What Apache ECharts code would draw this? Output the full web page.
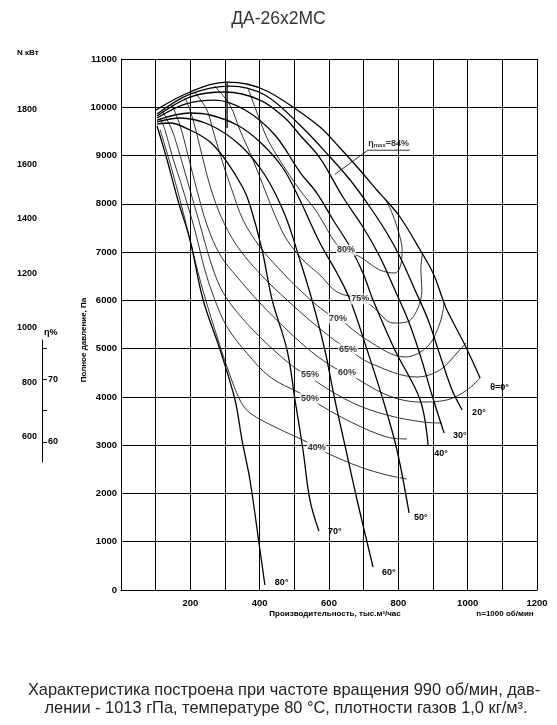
<!DOCTYPE html>
<html>
<head>
<meta charset="utf-8">
<title>ДА-26х2МС</title>
<script src="https://cdn.jsdelivr.net/npm/echarts@6/dist/echarts.min.js"></script>
<style>
  html, body { margin: 0; padding: 0; background: #fff; }
  #chart { width: 557px; height: 725px; }
</style>
</head>
<body>
<div id="chart"></div>
<script>
// axis ticks
const flowTicks = [200, 400, 600, 800, 1000, 1200];
const pressureTicks = [0, 1000, 2000, 3000, 4000, 5000, 6000, 7000, 8000, 9000, 10000, 11000];
const powerTicks = [600, 800, 1000, 1200, 1400, 1600, 1800];
const etaTicks = [60, 65, 70, 75];
const etaTickLabels = [60, 70];

// blade angle curves: [flow, thous. m3/h ; total pressure, Pa]
const angleNames = ["θ=0°", "20°", "30°", "40°", "50°", "60°", "70°", "80°"];
const blade0 = [[101,9943],[199,10316],[306,10523],[363,10482],[421,10337],[496,10005],[574,9591],[632,9156],[689,8700],[738,8286],[764,8079],[805,7727],[863,7043],[900,6567],[929,6007],[940,5800],[992,5075],[1036,4392]];
const blade20 = [[104,9860],[199,10274],[314,10440],[415,10254],[516,9633],[603,8970],[661,8493],[718,7934],[767,7395],[805,6898],[848,6215],[886,5593],[920,4868],[955,4143],[984,3729]];
const blade30 = [[104,9819],[199,10212],[300,10316],[401,10150],[473,9778],[516,9425],[574,8949],[640,8141],[698,7520],[747,6898],[790,6215],[828,5593],[863,4868],[897,4039],[932,3252]];
const blade40 = [[104,9778],[185,10067],[271,10150],[358,9943],[444,9425],[516,8659],[565,8224],[612,7665],[661,7105],[698,6567],[727,6007],[790,4972],[863,3936],[886,2983]];
const blade50 = [[104,9736],[199,9881],[257,9840],[335,9633],[401,9280],[467,8742],[516,8079],[574,7188],[623,6567],[661,6007],[710,4972],[756,3936],[796,2900],[831,1595]];
const blade60 = [[104,9695],[170,9778],[257,9633],[343,9218],[415,8597],[473,7768],[516,6836],[551,6007],[588,4972],[617,3936],[649,2900],[681,1864],[727,476]];
const blade70 = [[104,9653],[141,9674],[199,9529],[257,9280],[306,8866],[352,8327],[372,7975],[407,7043],[436,6007],[479,4972],[502,3936],[525,2900],[545,1864],[571,1222]];
const blade80 = [[104,9612],[133,8907],[164,8079],[199,7250],[237,6007],[286,4972],[329,3936],[349,3107],[372,2279],[398,974],[415,104]];
// vertical line under the top of the characteristics
const peakLine = [[306,10523],[306,9570]];

// efficiency contours
const eta80 = [[366,10400],[395,9840],[424,9322],[467,8804],[516,8286],[565,7830],[623,7147],[649,7043],[690,6898],[747,6629],[790,6567],[805,6691],[811,7043],[799,7457],[782,7810],[767,8040]];
const eta75 = [[270,10440],[314,10047],[343,9529],[381,8907],[415,8286],[450,7665],[479,7250],[525,6836],[574,6525],[623,6173],[690,6028],[727,5862],[785,5531],[825,5552],[854,5800],[868,6215],[865,6629],[870,6990]];
const eta70 = [[213,10316],[248,9943],[265,9529],[291,8907],[320,8286],[352,7665],[401,7105],[459,6629],[525,6152],[594,5738],[626,5634],[710,5179],[819,4827],[883,5034],[920,5531],[932,5950]];
const eta65 = [[185,10192],[199,9943],[216,9529],[237,8907],[265,8182],[300,7561],[343,7043],[410,6484],[479,6007],[554,5531],[623,5137],[655,4992],[718,4702],[854,4412],[920,4557],[969,4909],[995,5120]];
const eta60 = [[147,10047],[170,9633],[193,9011],[219,8286],[248,7561],[286,6940],[335,6484],[401,5945],[479,5386],[554,4909],[617,4599],[652,4495],[767,4039],[863,3894],[940,3936],[998,4143],[1036,4392]];
const eta55 = [[121,9902],[147,9529],[170,9011],[199,8286],[228,7561],[257,6836],[286,6277],[323,5862],[381,5386],[450,4909],[511,4557],[545,4454],[565,4309],[669,3874],[767,3625],[871,3480],[926,3459]];
const eta50 = [[113,9778],[127,9529],[147,9011],[179,8286],[213,7457],[242,6629],[271,6007],[306,5448],[363,4909],[430,4412],[516,4081],[545,3977],[574,3832],[669,3459],[767,3169],[825,3128]];
const eta40 = [[113,9529],[147,8700],[185,7665],[228,6422],[271,5386],[309,4557],[343,3936],[372,3667],[450,3356],[525,3107],[565,2962],[594,2838],[690,2548],[767,2382],[825,2299]];

// contour labels
const etaLabelText = ["80%", "75%", "70%", "65%", "60%", "55%", "50%", "40%"];
const etaLabelFlow = [649, 690, 626, 655, 652, 545, 545, 565];
const etaLabelPressure = [7043, 6028, 5634, 4992, 4495, 4454, 3977, 2962];

// max efficiency leader
const etaMaxLeader = [[617,8610],[712,9110],[833,9110]];
const etaMaxLabelPoint = [772, 9110];

const FONT = "Liberation Sans";
const BLACK = "#000";

const bladeSeries = [blade0, blade20, blade30, blade40, blade50, blade60, blade70, blade80];
const bladeLabelOffset = [[2,10],[2,3],[1,2],[-2,8],[-3,5],[1,5],[1,1],[2,-2]];
const etaSeries = [eta80, eta75, eta70, eta65, eta60, eta55, eta50, eta40];

const chart = echarts.init(document.getElementById("chart"), null, { renderer: "canvas" });

const series = [];
bladeSeries.forEach((pts, i) => {
  series.push({
    name: angleNames[i],
    type: "line",
    data: pts,
    smooth: 0.35,
    showSymbol: false,
    silent: true,
    lineStyle: { color: BLACK, width: 1.3 },
    endLabel: {
      show: true,
      formatter: angleNames[i],
      offset: bladeLabelOffset[i],
      fontFamily: FONT,
      fontWeight: "bold",
      fontSize: 9,
      color: BLACK,
    },
    z: 3,
  });
});
series.push({
  name: "peak line",
  type: "line",
  data: peakLine,
  showSymbol: false,
  silent: true,
  lineStyle: { color: BLACK, width: 1.3 },
  z: 3,
});
etaSeries.forEach((pts, i) => {
  series.push({
    name: etaLabelText[i],
    type: "line",
    data: pts,
    smooth: 0.35,
    showSymbol: false,
    silent: true,
    lineStyle: { color: BLACK, width: 0.8 },
    z: 2,
  });
});
series.push({
  name: "eta max",
  type: "line",
  data: etaMaxLeader,
  showSymbol: false,
  silent: true,
  lineStyle: { color: BLACK, width: 0.8 },
  z: 2,
});
series.push({
  name: "eta labels",
  type: "scatter",
  symbol: "circle",
  symbolSize: 1,
  silent: true,
  itemStyle: { color: "rgba(0,0,0,0)" },
  data: etaLabelText.map((t, i) => [etaLabelFlow[i], etaLabelPressure[i], t]),
  label: {
    show: true,
    position: "inside",
    formatter: (p) => p.data[2],
    fontFamily: FONT,
    fontWeight: "bold",
    fontSize: 9,
    color: BLACK,
    backgroundColor: "#fff",
    padding: [1, 1],
  },
  z: 6,
});
series.push({
  name: "eta max label",
  type: "scatter",
  symbol: "circle",
  symbolSize: 1,
  silent: true,
  itemStyle: { color: "rgba(0,0,0,0)" },
  data: [etaMaxLabelPoint],
  label: {
    show: true,
    position: "top",
    distance: 1,
    formatter: "{a|η}{b|max}{a|=84%}",
    rich: {
      a: { fontFamily: FONT, fontWeight: "bold", fontSize: 9, color: BLACK },
      b: { fontFamily: FONT, fontWeight: "bold", fontSize: 6, color: BLACK, padding: [4, 0, 0, 0] },
    },
  },
  z: 6,
});

const plainNumber = (v) => String(v);
const tickLabel = { fontFamily: FONT, fontWeight: "bold", fontSize: 9.5, color: BLACK, formatter: plainNumber };

const option = {
  animation: false,
  backgroundColor: "#fff",
  title: {
    text: "ДА-26х2МС",
    left: "center",
    top: 5,
    textStyle: { fontFamily: FONT, fontWeight: "normal", fontSize: 17.5, color: "#333" },
  },
  grid: [
    { left: 121, top: 59, width: 416, height: 531 },
    { left: 40, top: 110, width: 1, height: 327 },
    { left: 40, top: 340, width: 2, height: 122 },
  ],
  xAxis: [
    {
      gridIndex: 0,
      type: "value",
      min: 0,
      max: 1200,
      interval: 100,
      axisLine: { show: true, lineStyle: { color: BLACK, width: 1 } },
      axisTick: { show: false },
      splitLine: { show: true, lineStyle: { color: BLACK, width: 1 } },
      axisLabel: Object.assign({}, tickLabel, { customValues: flowTicks, margin: 8 }),
    },
    { gridIndex: 1, type: "value", show: false },
    { gridIndex: 2, type: "value", show: false },
  ],
  yAxis: [
    {
      gridIndex: 0,
      type: "value",
      min: 0,
      max: 11000,
      interval: 1000,
      axisLine: { show: true, lineStyle: { color: BLACK, width: 1 } },
      axisTick: { show: false },
      splitLine: { show: true, lineStyle: { color: BLACK, width: 1 } },
      axisLabel: Object.assign({}, tickLabel, { customValues: pressureTicks, margin: 4 }),
    },
    {
      gridIndex: 1,
      type: "value",
      min: 600,
      max: 1800,
      interval: 200,
      axisLine: { show: false },
      axisTick: { show: false },
      splitLine: { show: false },
      axisLabel: Object.assign({}, tickLabel, { customValues: powerTicks, margin: 3, fontSize: 9 }),
    },
    {
      gridIndex: 2,
      type: "value",
      position: "right",
      min: 56.8,
      max: 76.3,
      axisLine: { show: true, onZero: false, lineStyle: { color: BLACK, width: 1 } },
      axisTick: { show: true, inside: false, length: 5, customValues: etaTicks, lineStyle: { color: BLACK } },
      splitLine: { show: false },
      axisLabel: Object.assign({}, tickLabel, { customValues: etaTickLabels, margin: 6, fontSize: 9 }),
    },
  ],
  graphic: [
    { type: "text", x: 17, y: 53, style: { text: "N кВт", font: "bold 8px " + FONT, fill: BLACK, textVerticalAlign: "middle" } },
    { type: "text", x: 44, y: 333, style: { text: "η%", font: "bold 9px " + FONT, fill: BLACK, textVerticalAlign: "middle" } },
    {
      type: "text", x: 84, y: 340, rotation: Math.PI / 2,
      style: { text: "Полное давление, Па", font: "bold 8px " + FONT, fill: BLACK, textAlign: "center", textVerticalAlign: "middle" },
    },
    { type: "text", x: 335, y: 614, style: { text: "Производительность, тыс.м³/час", font: "bold 8px " + FONT, fill: BLACK, textAlign: "center", textVerticalAlign: "middle" } },
    { type: "text", x: 505, y: 614, style: { text: "n=1000 об/мин", font: "bold 8px " + FONT, fill: BLACK, textAlign: "center", textVerticalAlign: "middle" } },
    { type: "text", x: 284, y: 690, style: { text: "Характеристика построена при частоте вращения 990 об/мин, дав-", font: "16.4px " + FONT, fill: "#222", textAlign: "center", textVerticalAlign: "middle" } },
    { type: "text", x: 286, y: 708, style: { text: "лении - 1013 гПа, температуре 80 °С, плотности газов 1,0 кг/м³.", font: "16.4px " + FONT, fill: "#222", textAlign: "center", textVerticalAlign: "middle" } },
  ],
  series: series,
};

chart.setOption(option);
</script>
</body>
</html>
